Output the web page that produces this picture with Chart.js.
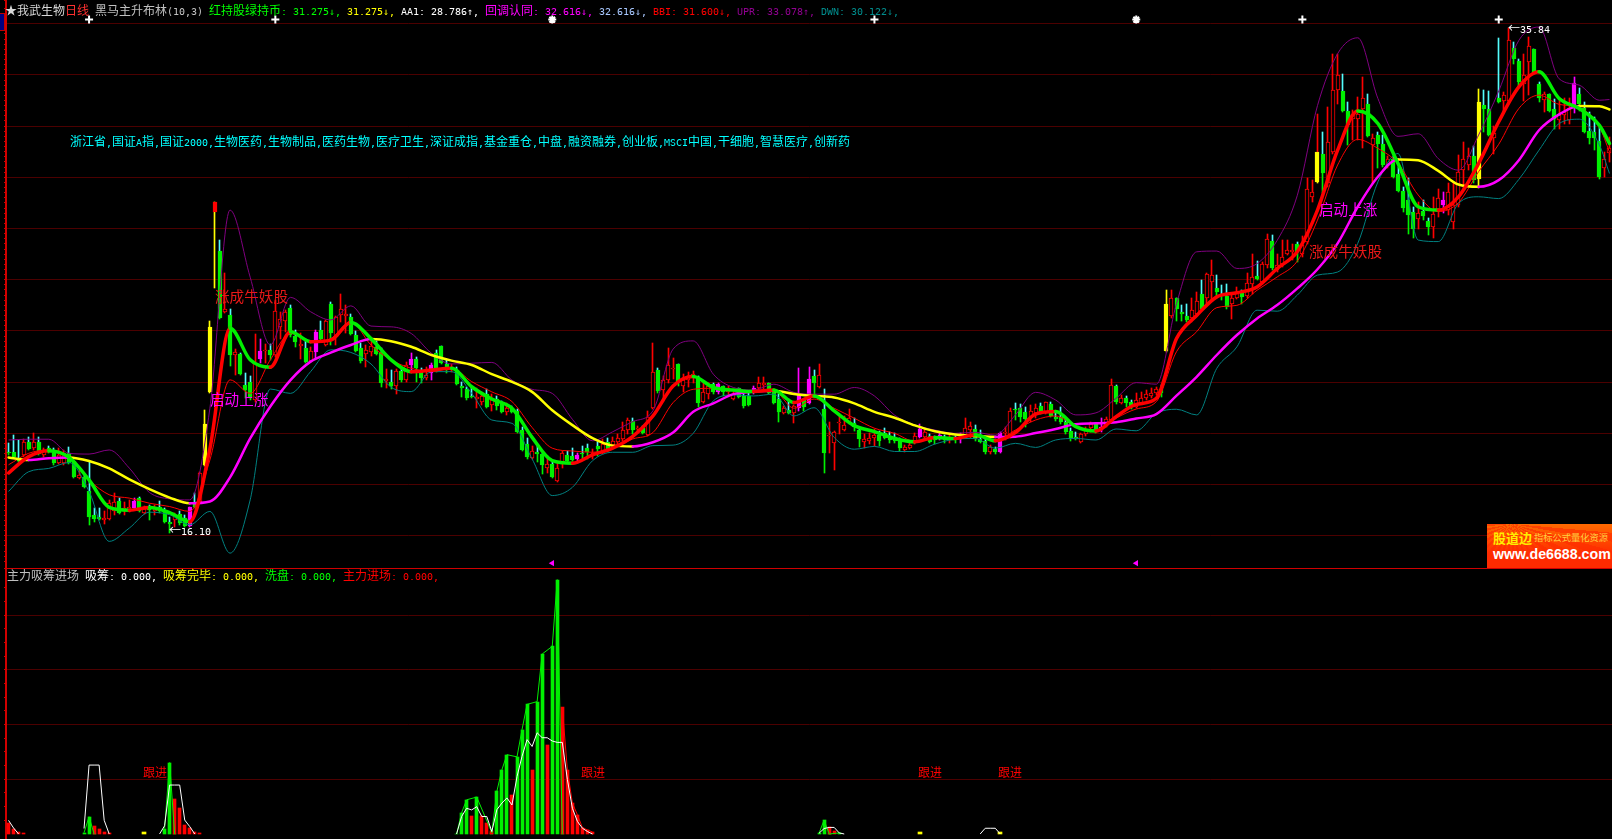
<!DOCTYPE html>
<html>
<head>
<meta charset="utf-8">
<title>我武生物 日线</title>
<script src="https://cdn.jsdelivr.net/npm/chart.js@4/dist/chart.umd.min.js"></script>
<style>
  /* latin glyphs are 6px wide next to 12px CJK, like the terminal font */
  @font-face {
    font-family: "term6";
    src: local("DejaVu Sans Mono");
    size-adjust: 83%;
    unicode-range: U+0-7F, U+2191, U+2193;
  }
  html, body { margin: 0; background: #000; overflow: hidden; }
  canvas { position: absolute; left: 0; }
  #kline { top: 0; }
  #flow { top: 568px; }
  .note {
    position: absolute;
    white-space: pre;
    font-family: "term6", "Noto Sans CJK SC", sans-serif;
  }
  #tab { position: absolute; left: 0; top: 13px; width: 4px; height: 16px; background: #000080; border: 1px solid #c00000; border-left: 0; }
  #ad {
    position: absolute; left: 1487px; top: 524px; width: 125px; height: 44px;
    background: linear-gradient(rgba(255,40,0,0), #ff2a00 70%), repeating-conic-gradient(from 0deg at 20% 0, #ff6a00 0 5deg, #ff4400 5deg 10deg);
  }
</style>
</head>
<body>
<canvas id="kline" width="1612" height="568"></canvas>
<canvas id="flow" width="1612" height="271"></canvas>
<div id="tab"></div>
<div id="ad"></div>
<script>
var opens = [
  19.28,19.28,19.02,19.15,19.67,19.41,19.67,19.15,19.41,19.22,
  18.83,18.83,19.22,18.9,18.27,18.28,17.75,16.82,16.72,16.6,
  16.67,16.95,17.36,16.97,16.98,17.07,17.49,16.9,17.11,16.95,
  17.14,16.98,16.54,16.6,16.85,16.68,16.39,17.33,17.33,18.77,
  21.63,28.65,27.12,24.75,24.62,23.06,23.1,21.89,22.02,21.3,
  22.9,23.2,23.25,23.06,24.17,24.4,24.9,23.8,23.42,23.34,
  22.83,23.19,24.03,23.45,25.04,23.78,24.62,24.6,24.53,23.84,
  23.34,23.1,23.19,23.36,23.16,22.05,22.02,21.85,22.44,22.1,
  22.67,22.9,22.47,22.15,22.37,23.13,23.41,22.71,22.47,22.47,
  21.85,21.73,21.46,21.33,21.23,21.53,21.11,21.34,21.14,20.85,
  20.98,20.88,20.14,19.58,19.03,19.29,19.19,18.64,18.8,18.15,
  18.8,19.16,19.12,19,19.25,19.41,19.16,19.52,19.32,19.67,
  19.55,19.67,19.78,20.14,20.49,20.15,20.19,19.94,20.98,22.48,
  21.69,22.08,22.5,22.71,21.83,22.08,22.24,22.14,21.24,21.53,
  21.92,21.62,21.83,21.63,21.36,21.76,21.46,21.46,21.6,21.76,
  21.88,21.95,21.6,21.34,20.81,20.92,20.78,20.98,21.3,21.2,
  22.24,21.82,20.95,19.9,19.64,20.4,20.13,20.42,20.42,20.13,
  19.65,19.71,19.81,19.94,20,19.9,19.87,19.71,19.35,19.44,
  19.61,19.84,19.84,19.9,19.84,19.8,19.87,19.77,19.84,19.77,
  19.87,20.13,20.16,19.77,19.7,19.29,19.39,19.28,20,19.87,
  20.94,20.98,20.82,20.65,20.81,21.07,20.81,21.14,20.62,20.62,
  20.45,20.09,19.84,19.68,19.97,20.2,20.36,20.13,20.33,20.52,
  21.86,21.17,21.37,21.24,21.04,21.2,21.37,21.47,21.56,21.72,
  23.22,24.58,25.27,24.75,24.6,24.52,24.68,25.43,25.27,25.92,
  25.66,25.46,25.36,25.07,25.3,25.5,25.36,25.82,26.14,25.92,
  26.57,27.5,26.37,26.63,26.99,27.09,27.41,27.02,27.49,29.24,
  29.83,30.93,29.76,31,33.4,33.36,32.59,32.26,32.29,32.65,
  32.85,31.28,31.67,31.29,30.47,30.7,30.12,29.46,29.11,28.63,
  28.37,28.69,28.29,28.04,28.69,28.9,28.72,28.27,28.92,30.28,
  30.47,30.83,29.93,32.82,32.65,31.52,33.11,33,32.97,35.05,
  34.54,33.66,34.5,35,33.63,33.01,33.24,32.68,32.23,32.45,
  32.23,32.72,33.24,32.72,31.8,31.78,31.41,30.38,30.96
];
var closes = [
  19.25,19.09,18.92,19.67,19.38,19.67,19.19,19.35,19.28,18.83,
  19.15,19.22,18.83,18.31,18.37,17.92,16.75,16.65,16.65,16.68,
  17.27,17.33,16.9,17.07,17.11,17.36,16.98,17.03,17.01,17.07,
  16.95,16.55,16.44,16.82,16.49,16.39,17.11,17.11,18.44,20.36,
  24.16,29.03,24.52,24.84,23.06,23.16,22.31,21.7,21.37,22.74,
  23.22,23.25,23.06,24.78,24.45,24.75,23.84,23.58,23.5,22.8,
  23.22,23.96,23.68,24.39,23.93,24.53,24.84,24.68,23.88,23.22,
  22.83,23.25,23.42,23.1,21.98,22.12,21.85,22.44,22.1,22.65,
  22.9,22.54,22.15,22.28,22.67,22.47,22.76,22.54,22.6,21.93,
  21.76,21.37,21.4,21.41,21.46,21.04,21.31,21.08,20.82,20.98,
  20.82,20.07,19.36,19.06,19.32,19.19,18.77,18.8,18.28,18.64,
  19.23,18.93,18.96,19.16,19.19,19.28,19.22,19.39,19.6,19.32,
  19.71,19.81,20.13,20.53,20.13,20.19,20.03,20.65,22.41,21.66,
  22.09,22.66,22.57,22.02,22.08,22.21,22.31,21.17,21.6,21.86,
  21.62,21.92,21.6,21.76,21.53,21.43,21.08,21.11,21.79,21.95,
  21.98,21.56,21.2,20.84,20.98,20.78,21.05,21.53,21.04,22.11,
  21.95,22.27,19.23,19.92,20.07,20.44,20.33,20.58,20.23,19.78,
  19.78,19.81,19.94,19.71,19.8,19.74,19.71,19.42,19.48,19.55,
  19.9,20.16,20.07,19.68,19.74,19.93,19.74,19.84,19.74,19.87,
  20.2,20.29,19.77,19.68,19.28,19.45,19.28,20.03,20.07,20.87,
  20.9,20.62,20.55,20.88,20.98,20.81,21.21,20.68,20.55,20.45,
  20.07,19.8,19.78,19.97,20.16,20.36,20.07,20.26,20.55,21.89,
  21.24,21.37,21.17,21.08,21.3,21.37,21.53,21.56,21.72,21.56,
  25.04,25.27,24.85,24.65,24.42,24.81,25.16,24.85,26.24,26.17,
  25.53,25.36,24.94,25.3,25.5,25.33,25.88,26.11,26.02,26.63,
  27.6,26.44,26.57,26.89,27.17,27.17,27.09,27.35,29.53,29.41,
  30.97,30.15,31.38,33.43,33.98,32.59,32.03,32.49,32.49,33.08,
  31.62,31.55,31.29,30.47,30.7,30.02,29.47,28.79,28.53,27.97,
  28.59,28.49,28.04,28.56,29.2,29.11,29.44,28.92,30.2,30.7,
  30.83,29.89,32.95,32.65,31.64,31.75,32.95,33.2,35.35,34.61,
  33.73,33.98,35.13,34.08,33.11,33.24,32.59,32.26,32.43,32.55,
  32.72,33.7,32.85,31.78,31.55,31.55,30,30.73,31.13
];
var highs = [
  19.61,19.93,19.74,19.77,19.84,20,19.87,19.41,19.5,19.41,
  19.41,19.35,19.48,18.96,18.57,18.37,18.9,17.08,17.08,16.95,
  17.4,17.66,17.46,17.33,17.4,17.46,17.53,17.17,17.2,17.2,
  17.36,17.07,16.75,16.9,16.95,16.82,17.11,17.66,18.5,20.91,
  24.39,29.03,27.57,26.25,24.84,23.3,23.12,22.35,22.24,23.88,
  23.7,23.5,23.5,25.2,24.75,24.8,25,24.03,23.9,23.67,
  23.38,24.03,24.4,24.43,25.14,24.6,25.46,25,24.66,24,
  23.54,23.45,23.67,23.62,23.32,22.5,22.47,22.5,22.54,22.8,
  23.12,23,22.54,22.6,22.76,23.26,23.41,22.87,22.7,22.6,
  22.02,21.82,21.82,21.76,21.6,21.72,21.53,21.46,21.27,21.2,
  21.08,20.95,20.23,19.81,19.5,19.5,19.25,19.12,18.93,18.87,
  19.3,19.3,19.42,19.25,19.5,19.58,19.4,19.65,19.77,19.8,
  19.87,19.97,20.43,20.6,20.6,20.3,20.3,20.88,23.52,22.57,
  22.25,23.32,22.96,22.71,22.31,22.38,22.42,22.25,21.98,21.98,
  21.98,21.98,21.85,21.85,21.66,21.79,21.53,21.6,21.85,22.2,
  22.2,21.98,21.69,21.53,21.08,21.34,21.11,22.54,21.34,22.6,
  22.47,22.7,21.72,20.46,20.1,20.75,20.68,20.95,20.6,20.23,
  19.97,20.03,20.16,20.1,20.2,20.07,20,19.8,19.55,19.67,
  20,20.36,20.2,19.97,19.9,20,19.94,19.97,19.9,20,
  20.59,20.46,20.33,20.13,19.8,19.55,19.48,20.07,20.26,20.98,
  21.2,21.14,21.04,21.1,21.14,21.2,21.23,21.23,20.8,21.04,
  20.52,20.2,20.07,20,20.26,20.46,20.42,20.59,20.65,22.11,
  21.89,21.5,21.46,21.3,21.59,21.62,21.69,21.78,21.82,21.88,
  25.59,25.59,25.27,25,25.04,25.27,25.53,25.98,26.27,26.76,
  26.17,25.78,25.82,25.4,25.72,25.59,26.27,27.02,26.73,26.69,
  27.8,27.74,27,27.54,27.55,27.41,27.48,27.7,29.96,29.9,
  32.49,31.78,32.75,34.83,34.83,34.05,32.94,32.62,33.14,33.92,
  33.24,31.7,31.78,31.65,30.82,30.82,30.41,29.63,29.96,28.85,
  29.04,29.11,28.4,29.24,29.56,29.43,29.79,29.76,30.87,31.38,
  31.13,31.22,33.44,33.43,33.37,32,35.45,33.35,35.84,35.29,
  34.64,34.83,35.5,35,33.73,33.33,33.27,33.04,33.08,33.08,
  33.1,33.9,33.47,32.95,32.55,32.36,31.97,31,31.58
];
var lows = [
  19.15,19.02,18.9,19.09,19.35,19.35,19.15,19.09,19.25,18.76,
  18.8,18.76,18.83,18.28,18.22,17.89,16.42,16.55,16.6,16.46,
  16.65,16.82,16.9,16.82,16.95,17,16.95,16.85,16.62,16.82,
  16.9,16.5,16.1,16.36,16.42,16.36,16.39,17.11,17.3,18.77,
  21.63,25.66,24.52,24.75,22.63,22.28,22.28,21.37,21.3,21.24,
  22.74,22.74,22.87,23,23.7,23.97,23.78,23.38,22.9,22.76,
  22.8,22.93,23.58,23.41,23.45,23.45,24.36,23.93,23.84,23.19,
  22.74,22.6,23.03,23.1,21.82,21.79,21.72,21.54,22.02,22.02,
  22.47,22.02,21.98,22.1,22.08,22.41,22.74,22.35,22.4,21.89,
  21.43,21.3,21.37,20.98,21.1,21,20.88,20.9,20.82,20.7,
  20.78,20.03,19.32,19,19,18.87,18.41,18.47,18.25,18.08,
  18.64,18.9,18.9,18.9,19,19,19,19.12,19.2,19.29,
  19.5,19.55,19.71,19.97,19.97,20.05,19.97,19.9,20.95,21.56,
  21.27,21.98,22.14,21.86,21.63,21.82,21.95,21.01,21.2,21.34,
  21.53,21.53,21.46,21.46,21.33,21.4,20.98,21.08,21.55,21.6,
  21.75,21.53,21.17,20.46,20.75,20.75,20.39,20.88,20.88,21.14,
  21.46,21.79,18.47,19.25,18.57,19.97,20.1,20.36,20.1,19.45,
  19.42,19.58,19.52,19.5,19.77,19.61,19.61,19.32,19.29,19.42,
  19.58,19.8,19.74,19.61,19.58,19.75,19.61,19.64,19.61,19.61,
  19.8,19.8,19.71,19.61,19.19,19.19,19.19,19.25,19.74,19.8,
  20.52,20.45,20.26,20.45,20.58,20.75,20.75,20.62,20.5,20.36,
  19.97,19.71,19.74,19.65,19.9,20.07,20,20.05,20.26,20.45,
  21.14,21.14,21.04,20.94,20.98,21.17,21.3,21.37,21.5,21.43,
  23.22,24.52,24.4,24.4,24.36,24.36,24.62,24.81,24.97,25.2,
  25.27,25.2,24.84,24.46,25.24,25.04,25.27,25.46,25.98,25.85,
  26.44,26.37,26.3,26.5,26.95,26.76,26.7,26.9,27.4,29.05,
  29.8,29.37,29.63,30.9,32.88,32.55,31.25,31.45,31.45,31.16,
  31.58,29.76,30.35,30.41,30.35,29.99,29.43,28.66,27.8,27.62,
  28,28.33,27.75,27.62,28.46,28.6,28.52,28,28.85,29.5,
  30.3,29.76,29.59,31.78,31.6,30.9,32.95,32.5,32.95,34.44,
  33.53,33,33.2,34.05,32.95,32.55,32.55,31.9,31.9,32.1,
  32.1,32.5,32.6,31.74,31.32,31.06,29.92,30.02,30.6
];
// bars the formula paints in another colour
var magentaBars = [25,36,50,61,80,84,113,141,148,157,159,181,185,189,197,217,285,311];
var yellowBars = [39,40,230,260,292];

// indicator lines
var lineBars = [0,4,8,12,16,20,24,28,32,36,40,44,48,52,56,60,64,68,72,76,
  80,84,88,92,96,100,104,108,112,116,120,124,128,132,136,140,144,148,152,156,
  160,164,168,172,176,180,184,188,192,196,200,204,208,212,216,220,224,228,232,236,
  240,244,248,252,256,260,264,268,272,276,280,284,288,292,296,300,304,308,312,316,318];
var fastLine = [18.45,19.09,19.32,19.06,18.18,17.11,17,17.1,16.9,16.55,19.4,24.1,22.87,22.58,23.97,23.58,23.64,24.33,23.7,22.87,
  22.41,22.47,22.54,21.82,21.34,20.98,19.84,18.93,18.83,19.16,19.42,19.88,20.68,21.85,22.22,21.79,21.69,21.63,21.69,21.2,
  21.46,20.88,20.3,20.07,19.8,19.67,19.84,19.8,19.94,19.71,20.03,20.75,20.85,20.26,20.09,20.65,21.13,21.37,23.7,24.6,
  25.33,25.49,25.72,26.44,27.1,28.72,31.06,32.59,32.1,30.54,28.85,28.72,29.24,30.54,32.17,33.53,34.12,33.08,32.69,32.03,31.32];
var slowLine = [19.06,18.96,19.03,19.06,18.92,18.63,18.2,17.82,17.49,17.27,17.34,18.28,19.8,21.05,22.08,22.8,23.15,23.45,23.68,23.6,
  23.38,23.06,22.84,22.67,22.31,22.01,21.62,20.9,20.32,19.81,19.52,19.49,19.65,20.03,20.84,21.17,21.53,21.63,21.66,21.54,
  21.46,21.4,21.17,20.84,20.61,20.31,20.08,19.95,19.9,19.86,19.87,20.01,20.17,20.36,20.39,20.43,20.58,20.75,21.47,22.21,
  23.06,23.84,24.49,25.01,25.66,26.41,27.42,28.85,30.02,30.7,30.67,30.25,29.72,29.63,29.89,30.67,31.84,32.46,32.79,32.78,32.65];
var midLine = [18.77,19.22,19.35,19.09,18.18,17.6,17.47,17.27,17.14,16.95,18.96,22.09,21.56,22.87,23.9,23.58,23.7,24.36,23.45,22.87,
  22.54,22.41,22.54,22.02,21.62,21.24,20.23,19.42,19.31,19.26,19.42,19.78,20.03,21.2,21.72,21.76,21.69,21.62,21.66,20.98,
  21.34,20.98,20.59,20.2,20,19.69,19.84,19.8,19.94,19.71,20.13,20.52,20.68,20.26,20.09,20.59,20.95,21.24,23.19,23.97,
  24.91,25,25.59,26.11,26.73,28.33,30.48,31.48,31.13,30.54,29.31,28.66,29.01,30.22,31.29,32.69,33.21,32.85,32.72,31.97,30.99];
var upperBand = [19.74,19.77,19.77,19.22,19.19,19.35,18.64,17.69,17.44,17.4,20.98,28.72,26.1,23.45,25.31,24.75,24.43,24.98,24.19,24.16,
  23.9,23.13,22.71,22.74,22.77,22.08,21.72,21.56,20.55,19.71,20.06,20.46,20.88,23.29,23.61,22.31,21.79,21.69,21.92,21.6,
  21.53,21.53,21.79,21.46,20.71,20.33,20.13,20,20.04,19.93,20.72,21.6,21.3,20.72,20.8,21.37,21.98,21.92,25.07,27.09,
  27.12,26.44,26.63,27.54,29.3,32.8,34.83,35.45,33.08,31.6,31.7,30.73,30.28,31.65,33.37,35.35,35.87,33.85,33.6,33.01,33.04];
var lowerBand = [17.73,18.5,18.63,18.86,17.73,15.78,16.3,16.92,16.82,16.43,16.95,15.32,17.4,21.73,21.56,22.41,23.26,23.16,22.71,21.8,
  21.63,22.41,22.41,21.56,20.52,20.39,19,17.57,17.89,18.93,19.26,19.26,19.52,19.54,20,21.27,21.5,21.46,21.53,20.68,
  21,19.84,19.38,19.49,19.29,19.29,19.58,19.77,19.8,19.42,19.61,19.45,19.74,19.8,19.74,20.17,20.1,20.78,20.94,20.72,
  22.54,23.38,24.81,24.77,25.4,26.18,26.3,27.42,29.82,30.93,27.55,27.49,28.98,29.24,29.17,29.92,31.06,32.1,32.27,31.26,30.15];

// 主力吸筹进场 pane
var washBars = [15,16,17,18,31,32,33,34,89,90,91,93,96,97,98,99,101,102,103,105,106,108,109,110,111,161,162,163,165];
var washVals = [0.5,6.3,0,null,2,26.1,0,null,0,7.8,12.5,13.5,0.5,15.6,23.5,29,28.2,38.2,47.4,48.4,65.8,68.6,93,0,null,0.3,5.1,0,0.4];
var entryBars = [0,1,2,3,17,18,19,20,33,34,35,36,37,38,92,94,95,96,100,104,107,110,111,112,113,114,115,116,163,164];
var entryVals = [3.9,1.8,0.8,0.4,2.9,1.8,0.8,0.4,12.9,9.4,3.3,2.1,0.9,0.5,6.4,6.6,3.9,1.2,14.3,23.5,32.7,46.3,23.5,11.3,7,2.3,1.5,0.7,2.4,1.2];
var doneBars = [27,181,197];
var doneVals = [0.8,0.8,0.8];
var absorbBars = [0,1,2,3,15,16,17,18,19,20,21,30,31,32,33,34,35,36,37,38,
  89,90,91,92,93,94,95,96,97,98,99,100,101,102,103,104,105,106,107,108,109,110,111,112,113,114,115,116,117,
  161,162,163,164,165,166,167,193,194,195,196,197];
var absorbVals = [5,2.2,0,null,2,25.2,25.2,25.2,5,0,null,0,3,17.9,17.9,17.9,5.1,2.7,0,null,
  0,6.4,9.4,8.8,10,6.4,6.4,0.9,8.9,11.3,13.2,10.6,21,28.4,34.5,32,37,35.2,35.2,34,33.5,33.5,20,9.4,4.6,2.1,0.9,0,null,
  0.3,2,2.4,2.4,0.4,0,null,0,2.1,2.1,2.1,0];

// header marks along the top row and the triangles above the lower pane
var markBars = [16,53,108,172,224,257,296];
var markStyles = ['cross','cross','star','cross','star','cross','cross'];
var flagBars = [108,224];

var bars = opens.map(function (v, i) { return i; });

var RED = '#ff0000', GREEN = '#00f000', CYAN = '#54fcfc', MAGENTA = '#ff00ff', YELLOW = '#ffff00';
var GRID = '#4c0000';

function zip(xs, ys) {
  return xs.map(function (x, i) { return { x: x, y: ys[i] }; });
}

function bodyColor(i) {
  if (magentaBars.includes(i)) return MAGENTA;
  if (yellowBars.includes(i)) return YELLOW;
  return closes[i] >= opens[i] ? RED : GREEN;
}

function upperWickColor(i) {
  if (i === 41) return YELLOW;
  if (i === 260) return RED;
  var c = bodyColor(i);
  return c === GREEN ? CYAN : c;
}

function lowerWickColor(i) {
  return i === 41 ? YELLOW : bodyColor(i);
}

// candle body fill: plain up bars stay hollow
function bodyFill(i) {
  var c = bodyColor(i);
  if (c === RED && i !== 41) return '#000';
  return c;
}

function thinLine(label, data, color, order) {
  return {
    type: 'line', label: label, data: zip(lineBars, data), borderColor: color,
    borderWidth: 1, pointRadius: 0, cubicInterpolationMode: 'monotone', order: order
  };
}

function thickLine(label, data, upColor, downColor, width, order) {
  return {
    type: 'line', label: label, data: zip(lineBars, data), borderWidth: width,
    borderColor: upColor, pointRadius: 0, borderCapStyle: 'round',
    cubicInterpolationMode: 'monotone', order: order,
    segment: {
      borderColor: function (ctx) { return ctx.p1.parsed.y >= ctx.p0.parsed.y ? upColor : downColor; }
    }
  };
}

// snap bars to whole pixels so 1px wicks stay sharp
var snapBars = {
  id: 'snapBars',
  beforeDatasetsDraw: function (chart, args, opts) {
    chart.getSortedVisibleDatasetMetas().forEach(function (meta) {
      if (meta.type !== 'bar') return;
      meta.data.forEach(function (el) {
        el.x = Math.round(el.x - el.width / 2) + el.width / 2;
        el.y = Math.round(el.y);
        el.base = Math.round(el.base);
        if (opts.minHeight && el.base === el.y) el.base = el.y + 1;
      });
    });
  }
};

function nearMultiple(v, step) {
  return Math.abs(v / step - Math.round(v / step)) < 1e-6;
}

function baseOptions(yAxis, minHeight) {
  return {
    responsive: false,
    animation: false,
    events: [],
    layout: { padding: 0, autoPadding: false },
    plugins: { legend: { display: false }, tooltip: { enabled: false }, snapBars: { minHeight: minHeight } },
    scales: {
      x: { display: false, offset: true },
      y: yAxis
    }
  };
}

var priceAxis = {
  position: 'left',
  min: 14.74,
  max: 36.926,
  afterFit: function (s) { s.width = 6; },
  ticks: { display: false, stepSize: 0.2 },
  border: { color: '#d00000', width: 2 },
  grid: {
    drawTicks: true,
    tickLength: 2,
    tickColor: '#d00000',
    color: function (ctx) {
      var v = ctx.tick.value;
      return v >= 16 && v <= 36.1 && nearMultiple(v, 2) ? GRID : 'transparent';
    }
  }
};

var flowAxis = {
  position: 'left',
  min: -1.83,
  max: 97.26,
  afterFit: function (s) { s.width = 6; },
  ticks: { display: false, stepSize: 5 },
  border: { color: '#d00000', width: 2 },
  grid: {
    drawTicks: true,
    tickLength: 2,
    tickColor: '#d00000',
    color: function (ctx) {
      var v = ctx.tick.value;
      if (v === 0) return RED;
      if (v === 97.26) return '#d00000';
      return v > 0 && v < 90 && nearMultiple(v, 20) ? GRID : 'transparent';
    },
    lineWidth: function (ctx) {
      return ctx.tick.value === 0 || ctx.tick.value === 97.26 ? 2 : 1;
    }
  }
};

new Chart(document.getElementById('kline'), {
  type: 'bar',
  plugins: [snapBars],
  data: {
    labels: bars,
    datasets: [
      {
        label: '标记', type: 'line', showLine: false, order: 1,
        data: markBars.map(function (b) { return { x: b, y: 36.16 }; }),
        pointStyle: markStyles, pointRadius: 4, pointBorderWidth: 2, pointBorderColor: '#fff', pointBackgroundColor: '#fff'
      },
      {
        label: '买点', type: 'line', showLine: false, order: 1,
        data: flagBars.map(function (b) { return { x: b, y: 14.93 }; }),
        pointStyle: 'triangle', rotation: -90, pointRadius: 3.5, pointBorderWidth: 0, pointBackgroundColor: MAGENTA
      },
      thickLine('AA1', fastLine, RED, GREEN, 3.5, 2),
      thickLine('回调认同', slowLine, MAGENTA, YELLOW, 2.5, 3),
      thinLine('BBI', midLine, RED, 4),
      thinLine('UPR', upperBand, '#800080', 5),
      thinLine('DWN', lowerBand, '#008080', 6),
      {
        label: 'body', grouped: false, order: 10, barThickness: 4, borderWidth: 1, borderSkipped: false,
        data: opens.map(function (o, i) { return [o, closes[i]]; }),
        backgroundColor: bars.map(bodyFill),
        borderColor: bars.map(bodyColor)
      },
      {
        label: 'upper', grouped: false, order: 11, barThickness: 1,
        data: bars.map(function (i) { return [Math.max(opens[i], closes[i]), highs[i]]; }),
        backgroundColor: bars.map(upperWickColor)
      },
      {
        label: 'lower', grouped: false, order: 11, barThickness: 1,
        data: bars.map(function (i) { return [lows[i], Math.min(opens[i], closes[i])]; }),
        backgroundColor: bars.map(lowerWickColor)
      }
    ]
  },
  options: baseOptions(priceAxis, true)
});

new Chart(document.getElementById('flow'), {
  type: 'bar',
  plugins: [snapBars],
  data: {
    labels: bars,
    datasets: [
      {
        label: '吸筹', type: 'line', data: zip(absorbBars, absorbVals), borderColor: '#fff',
        borderWidth: 1, pointRadius: 0, order: 1
      },
      {
        label: '洗盘线', type: 'line', data: zip(washBars, washVals), borderColor: GREEN,
        borderWidth: 1, pointRadius: 0, order: 2
      },
      {
        label: '进场线', type: 'line', borderColor: RED, borderWidth: 1, pointRadius: 0, order: 2,
        data: zip(entryBars, entryVals).filter(function (p) { return p.x >= 110 && p.x < 120; })
      },
      { label: '主力进场', grouped: false, order: 3, barThickness: 3, data: zip(entryBars, entryVals), backgroundColor: RED },
      { label: '洗盘', grouped: false, order: 4, barThickness: 3, data: zip(washBars, washVals), backgroundColor: GREEN },
      { label: '吸筹完毕', grouped: false, order: 4, barThickness: 4, data: zip(doneBars, doneVals), backgroundColor: YELLOW }
    ]
  },
  options: baseOptions(flowAxis, false)
});

// all labels stay real text on top of the canvases
function addNote(parent, x, y, size, parts) {
  var d = document.createElement('div');
  d.className = 'note';
  d.style.left = x + 'px';
  d.style.top = (y - size / 2 + 2) + 'px';
  d.style.fontSize = size + 'px';
  d.style.lineHeight = size + 'px';
  parts.forEach(function (p) {
    var s = document.createElement('span');
    s.textContent = p[0];
    s.style.color = p[1];
    d.appendChild(s);
  });
  parent.appendChild(d);
  return d;
}

var page = document.body;
addNote(page, 5, 10, 12, [
  ['★我武生物', '#d8d8d8'], ['日线', '#ff3030'], [' 黑马主升布林(10,3) ', '#c0c0c0'],
  ['红持股绿持币: 31.275↓,', '#00ff00'], [' 31.275↓,', '#ffff00'], [' AA1: 28.786↑,', '#ffffff'],
  [' 回调认同: 32.616↓,', '#ff00ff'], [' 32.616↓,', '#a8c8ff'], [' BBI: 31.600↓,', '#ff0000'],
  [' UPR: 33.078↑,', '#900090'], [' DWN: 30.122↓,', '#008c8c']
]);
addNote(page, 7, 575, 12, [
  ['主力吸筹进场 ', '#c0c0c0'], ['吸筹: 0.000,', '#ffffff'], [' 吸筹完毕: 0.000,', '#ffff00'],
  [' 洗盘: 0.000,', '#00ff00'], [' 主力进场: 0.000,', '#ff0000']
]);
addNote(page, 70, 141, 12, [['浙江省,国证A指,国证2000,生物医药,生物制品,医药生物,医疗卫生,深证成指,基金重仓,中盘,融资融券,创业板,MSCI中国,干细胞,智慧医疗,创新药', '#00ffff']]);

addNote(page, 215, 296, 14.6, [['涨成牛妖股', '#e81818']]);
addNote(page, 210, 399, 14.6, [['启动上涨', '#ff00ff']]);
addNote(page, 1309, 251, 14.6, [['涨成牛妖股', '#e81818']]);
addNote(page, 1319, 209, 14.6, [['启动上涨', '#ff00ff']]);
addNote(page, 169, 530, 12, [['←16.10', '#ffffff']]);
addNote(page, 1508, 28, 12, [['←35.84', '#ffffff']]);
addNote(page, 143, 772, 12, [['跟进', '#ff0000']]);
addNote(page, 581, 772, 12, [['跟进', '#ff0000']]);
addNote(page, 918, 772, 12, [['跟进', '#ff0000']]);
addNote(page, 998, 772, 12, [['跟进', '#ff0000']]);

var ad = document.getElementById('ad');
addNote(ad, 6, 13, 13, [['股道边', '#ffee00']]).style.fontWeight = 'bold';
addNote(ad, 47, 13, 9.25, [['指标公式量化资源', '#ffd040']]);
var site = addNote(ad, 6, 28, 14.2, [['www.de6688.com', '#ffffff']]);
site.style.fontFamily = '"Liberation Sans", sans-serif';
site.style.fontWeight = 'bold';
</script>
</body>
</html>
